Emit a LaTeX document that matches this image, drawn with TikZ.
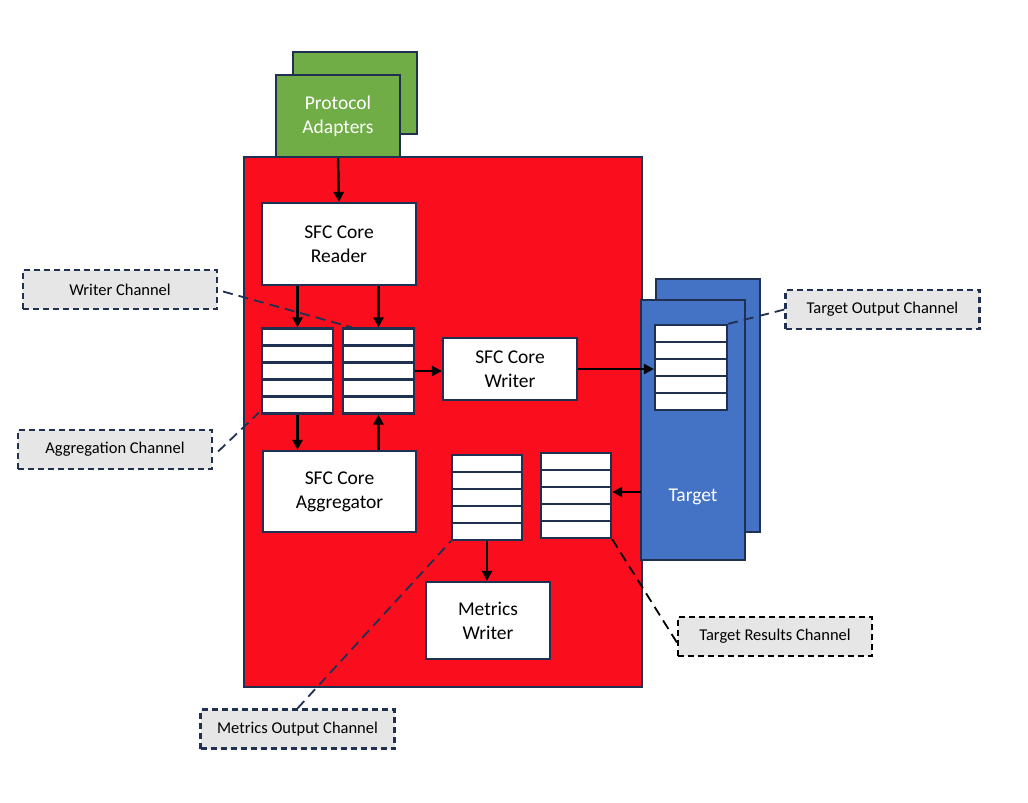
\documentclass[tikz,border=0pt]{standalone}
\usepackage{fontspec}
\setmainfont{Carlito}
\usetikzlibrary{arrows.meta}
\definecolor{corered}{RGB}{250,14,30}
\definecolor{pagreen}{RGB}{112,173,71}
\definecolor{tblue}{RGB}{68,114,196}
\definecolor{navy}{RGB}{32,48,80}
\definecolor{lblgray}{RGB}{231,230,230}
\tikzset{
  boxbase/.style={draw=navy, line width=2.2pt, inner sep=0pt, align=center},
  whitebox/.style={boxbase, fill=white, font=\fontsize{19.5}{24}\selectfont},
  greenbox/.style={boxbase, fill=pagreen, text=white, font=\fontsize{19.5}{24}\selectfont, minimum width=124pt, minimum height=82pt},
  bluebox/.style={boxbase, fill=tblue, minimum width=104pt},
  queue/.style={boxbase, fill=white, minimum width=71pt, minimum height=85pt,
    path picture={\foreach \i in {1,...,4}{\draw[navy, line width=2.4pt]
      ([yshift=\i*17pt]path picture bounding box.south west) --
      ([yshift=\i*17pt]path picture bounding box.south east);}}},
  chlabel/.style={draw=navy, fill=lblgray, line width=2.2pt, dash pattern=on 6pt off 4pt,
    minimum width=194pt, minimum height=39pt, inner sep=0pt, font=\fontsize{16.5}{19}\selectfont},
  flow/.style={black, line width=2.4pt, -{Triangle[length=10pt,width=10pt]}},
  callout/.style={navy, line width=1.8pt, dash pattern=on 10pt off 6pt},
  callblack/.style={black, line width=1.8pt, dash pattern=on 10pt off 6pt}
}
\begin{document}
\begin{tikzpicture}[x=1pt,y=-1pt]
\useasboundingbox (0,0) rectangle (1028,803);
% protocol adapters
\node[greenbox] (paback) at (355,93) {};
\node[greenbox] (pa) at (338,116) {Protocol\\Adapters};
% core
\node[boxbase, fill=corered, minimum width=398pt, minimum height=530pt] (core) at (443,422) {};
% target
\node[bluebox, minimum height=253pt] (tback) at (708,405.5) {};
\node[bluebox, minimum height=260pt] (tfront) at (693,430) {};
\node[text=white, font=\fontsize{19.5}{24}\selectfont] (tlabel) at (693,497) {Target};
% inner boxes
\node[whitebox, minimum width=154pt, minimum height=82pt] (reader) at (339,244) {SFC Core\\Reader};
\node[queue] (q1) at (297.5,371) {};
\node[queue] (q2) at (378.5,371) {};
\node[whitebox, minimum width=134pt, minimum height=62pt] (writer) at (510,369) {SFC Core\\Writer};
\node[whitebox, minimum width=153pt, minimum height=81pt] (agg) at (339.5,491.5) {SFC Core\\Aggregator};
\node[queue, minimum width=70pt] (q3) at (487,497.5) {};
\node[queue, minimum width=70pt] (q4) at (576,495.5) {};
\node[whitebox, minimum width=124pt, minimum height=77pt] (mwriter) at (488,620.5) {Metrics\\Writer};
\node[queue, minimum width=72pt] (tq) at (691,367.5) {};
% flows
\draw[flow] (pa.south) -- (reader.north);
\draw[flow] (q1.north |- reader.south) -- (q1.north);
\draw[flow] (q2.north |- reader.south) -- (q2.north);
\draw[flow] (q2.east) -- (writer.west |- q2.east);
\draw[flow] (writer.east) -- (tq.west |- writer.east);
\draw[flow] (q1.south) -- (q1.south |- agg.north);
\draw[flow] (q2.south |- agg.north) -- (q2.south);
\draw[flow] (q3.south) -- (q3.south |- mwriter.north);
\coordinate (tin) at (641,492);
\draw[flow] (tin) -- (q4.east |- tin);
% labels
\node[chlabel] (lw) at (120,289.5) {Writer Channel};
\node[chlabel] (la) at (115,449.5) {Aggregation Channel};
\node[chlabel] (lto) at (882.5,309.5) {Target Output Channel};
\node[chlabel, draw=black] (ltr) at (775,636.5) {Target Results Channel};
\node[chlabel] (lmo) at (297.5,729) {Metrics Output Channel};
% callouts
\draw[callout] ([xshift=5pt,yshift=-2pt]lw.east) -- ([xshift=10pt]q2.north west);
\draw[callout] ([xshift=5pt,yshift=-2pt]la.east) -- ([xshift=-2pt,yshift=2pt]q1.south west);
\draw[callout] (lto.west) -- (tq.north east);
\draw[callout] (lmo.north) -- (q3.south west);
\draw[callblack] (q4.south east) -- ([yshift=-6pt]ltr.west);
\end{tikzpicture}
\end{document}
